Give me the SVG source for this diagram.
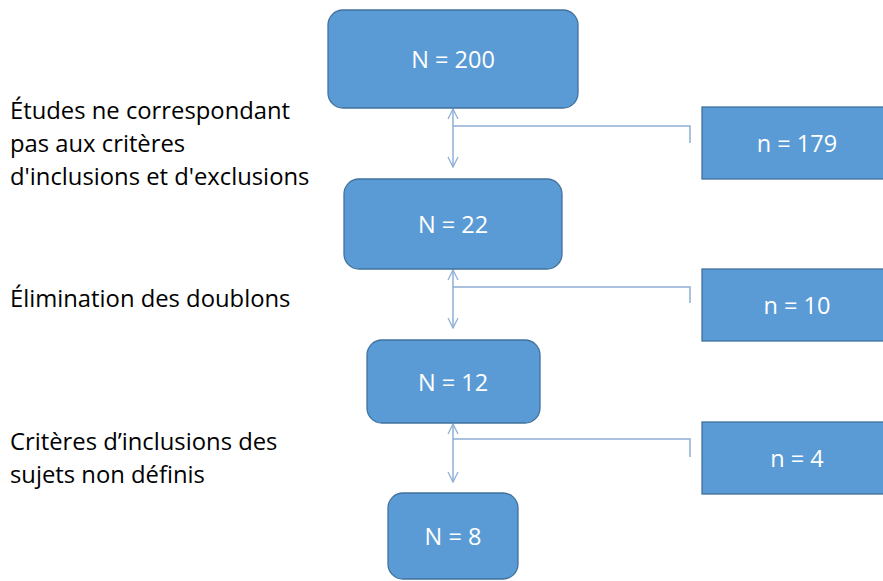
<svg xmlns="http://www.w3.org/2000/svg" width="883" height="581" viewBox="0 0 883 581">
<defs>
<marker id="arr" viewBox="0 0 12 12" refX="11" refY="6" markerWidth="12" markerHeight="12" markerUnits="userSpaceOnUse" orient="auto-start-reverse">
<path d="M1,1 L11,6 L1,11" fill="none" stroke="#8EAFD6" stroke-width="1.3"/>
</marker>
<style>
.box{fill:#5B9BD5;stroke:#41719C;stroke-width:1.3}
.bt{font-family:"Open Sans","Liberation Sans",sans-serif;font-size:23.5px;fill:#fff;text-anchor:middle}
.lt{font-family:"Open Sans","Liberation Sans",sans-serif;font-size:23.8px;fill:#000}
.con{fill:none;stroke:#8EAFD6;stroke-width:1.5}
</style>
</defs>
<rect width="883" height="581" fill="#fff"/>
<g id="connectors">
<path class="con" d="M453,109 L453,167" marker-start="url(#arr)" marker-end="url(#arr)"/>
<path class="con" d="M453,126 L690,126 L690,143"/>
<path class="con" d="M453,270 L453,328" marker-start="url(#arr)" marker-end="url(#arr)"/>
<path class="con" d="M453,287 L690,287 L690,303"/>
<path class="con" d="M453,424 L453,482" marker-start="url(#arr)" marker-end="url(#arr)"/>
<path class="con" d="M453,439 L690,439 L690,457"/>
</g>
<g id="n200"><rect class="box" x="328" y="10" width="250" height="98" rx="15"/><text class="bt" x="453" y="68">N = 200</text></g>
<g id="n22"><rect class="box" x="344" y="179" width="218" height="90" rx="15"/><text class="bt" x="453" y="233">N = 22</text></g>
<g id="n12"><rect class="box" x="367" y="340" width="173" height="83" rx="15"/><text class="bt" x="453" y="391">N = 12</text></g>
<g id="n8"><rect class="box" x="388" y="493" width="130" height="86" rx="15"/><text class="bt" x="453" y="545">N = 8</text></g>
<g id="n179"><rect class="box" x="702" y="107" width="190" height="72"/><text class="bt" x="797" y="152">n = 179</text></g>
<g id="n10"><rect class="box" x="702" y="269" width="190" height="72"/><text class="bt" x="797" y="314">n = 10</text></g>
<g id="n4"><rect class="box" x="702" y="422" width="190" height="72"/><text class="bt" x="797" y="467">n = 4</text></g>
<g id="labels">
<text class="lt" x="10" y="119">Études ne correspondant</text>
<text class="lt" x="10" y="152">pas aux critères</text>
<text class="lt" x="10" y="185">d'inclusions et d'exclusions</text>
<text class="lt" x="10" y="307">Élimination des doublons</text>
<text class="lt" x="10" y="450">Critères d’inclusions des</text>
<text class="lt" x="10" y="483">sujets non définis</text>
</g>
</svg>
